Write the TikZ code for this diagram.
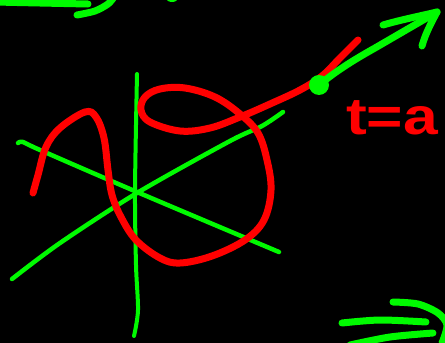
\documentclass[tikz,border=0pt]{standalone}
\usepackage{fontspec}
\setmainfont{Liberation Sans}
\definecolor{pen green}{RGB}{0,250,0}
\definecolor{pen red}{RGB}{255,0,0}
\begin{document}
\begin{tikzpicture}[x=1pt,y=-1pt,
  gstroke/.style={draw=pen green,line width=7pt,line cap=round,line join=round},
  rstroke/.style={draw=pen red,line width=7pt,line cap=round,line join=round}]
\fill[black] (0,0) rectangle (445,343);
\useasboundingbox (0,0) rectangle (445,343);
\clip (0,0) rectangle (445,343);
% top-left strokes
\draw[gstroke] plot[smooth] coordinates {(-5,2) (40,3) (88,4)};
\draw[gstroke] plot[smooth] coordinates {(77,15) (95,11) (108,4) (114,-3)};
\fill[pen green] (172,-2) ellipse (6 and 4);
% axes
\draw[gstroke,line width=4pt] plot[smooth] coordinates {(137,74) (135,190) (136,265) (138,310) (134,336)};
\draw[gstroke,line width=4.5pt] plot[smooth] coordinates {(18,143) (23,142) (40,150) (137,192) (279,252)};
\draw[gstroke,line width=4.5pt] plot[smooth] coordinates {(12,279) (60,243) (137,193) (230,141) (262,126) (283,112)};
% red curve
\draw[rstroke] plot[smooth,tension=0.6] coordinates {(33,193) (38,175) (46,147) (60,128) (85,112) (96,117) (104,138) (108,170) (112,195) (121,217) (136,240) (160,258) (180,263) (212,256) (245,240) (264,220) (271,190) (267,160) (258,133) (240,114) (215,97) (185,88) (160,89) (145,97) (141,110) (150,122) (180,131) (210,128) (240,117) (270,104) (300,90) (322,76) (340,58) (358,40)};
% point and arrow
\node[circle,fill=pen green,minimum width=20pt,minimum height=18pt,inner sep=0pt] (p) at (319,85) {};
\coordinate (tip) at (437,12);
\draw[gstroke] (p.center) .. controls (335,72) and (350,62) .. (375,48) -- (tip);
\draw[gstroke] (383,25) .. controls (400,20) and (420,16) .. (tip) .. controls (430,25) and (425,35) .. (422,46);
% label
\node[text=pen red,font=\bfseries\fontsize{52}{52}\selectfont,xscale=1.2,anchor=base] (lbl) at (392,134) {t=a};
% bottom-right strokes
\draw[gstroke] plot[smooth] coordinates {(342,323) (380,320) (426,322)};
\draw[gstroke] plot[smooth] coordinates {(350,345) (390,337) (433,333)};
\draw[gstroke] plot[smooth] coordinates {(393,302) (418,304) (438,313) (447,325) (442,343)};
\end{tikzpicture}
\end{document}
